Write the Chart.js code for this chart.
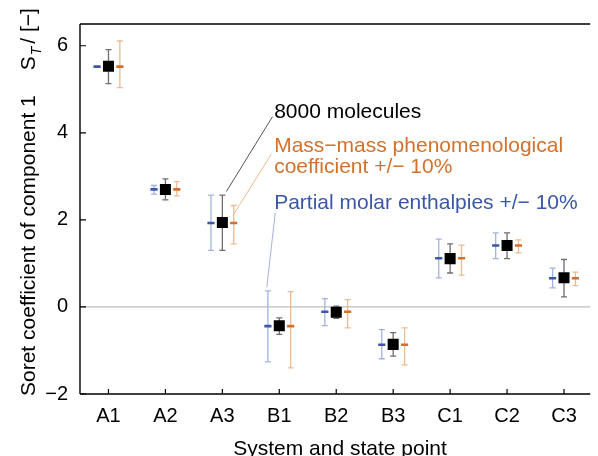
<!DOCTYPE html>
<html>
<head>
<meta charset="utf-8">
<script src="https://cdn.jsdelivr.net/npm/chart.js@4/dist/chart.umd.min.js"></script>
<style>
  html, body { margin: 0; padding: 0; background: #fff; }
  canvas { display: block; }
</style>
</head>
<body>
<canvas id="c" width="598" height="456"></canvas>
<script>
// ---- data ----
const categories = ['A1', 'A2', 'A3', 'B1', 'B2', 'B3', 'C1', 'C2', 'C3'];
const yTicks = [-2, 0, 2, 4, 6];

// 8000 molecules (black squares)
const mol8000      = [5.53, 2.70, 1.94, -0.43, -0.12, -0.86, 1.11, 1.41, 0.67];
const mol8000Low   = [5.13, 2.46, 1.30, -0.63, -0.26, -1.13, 0.78, 1.11, 0.23];
const mol8000High  = [5.91, 2.94, 2.57, -0.25,  0.02, -0.59, 1.45, 1.70, 1.09];

// Partial molar enthalpies +/- 10% (blue)
const enthalpy     = [5.52, 2.70, 1.93, -0.44, -0.11, -0.87, 1.12, 1.41, 0.66];
const enthalpyLow  = [5.52, 2.59, 1.30, -1.26, -0.43, -1.19, 0.67, 1.11, 0.44];
const enthalpyHigh = [5.52, 2.79, 2.57,  0.37,  0.19, -0.52, 1.56, 1.70, 0.89];

// Mass-mass phenomenological coefficient +/- 10% (orange)
const massCoef     = [5.52, 2.70, 1.93, -0.44, -0.11, -0.87, 1.12, 1.41, 0.66];
const massCoefLow  = [5.04, 2.55, 1.45, -1.40, -0.48, -1.33, 0.73, 1.24, 0.49];
const massCoefHigh = [6.11, 2.88, 2.33,  0.35,  0.17, -0.48, 1.42, 1.54, 0.80];

// ---- styling / layout ----
const FONT = '"Liberation Sans", Arial, Helvetica, sans-serif';
const BLUE = '#3a57a8', BLUE_LIGHT = '#a3b3e0';
const ORANGE = '#d2712b', ORANGE_LIGHT = '#ebbb93';
const GRAY_ERR = '#6e6e6e';
const OFFSET = 0.2;

const seriesDefs = [
  { label: 'Partial molar enthalpies +/− 10%', vals: enthalpy, lo: enthalpyLow, hi: enthalpyHigh, off: -OFFSET, color: BLUE, err: BLUE_LIGHT, style: 'line' },
  { label: 'Mass−mass phenomenological coefficient +/− 10%', vals: massCoef, lo: massCoefLow, hi: massCoefHigh, off: OFFSET, color: ORANGE, err: ORANGE_LIGHT, style: 'line' },
  { label: '8000 molecules', vals: mol8000, lo: mol8000Low, hi: mol8000High, off: 0, color: '#000', err: GRAY_ERR, style: 'rect' }
];

const datasets = seriesDefs.map(s => ({
  label: s.label,
  data: s.vals.map((v, i) => ({ x: i + s.off, y: v })),
  pointStyle: s.style,
  pointRadius: s.style === 'rect' ? 7.8 : 3.6,
  pointBorderWidth: s.style === 'rect' ? 0 : 2.6,
  pointBackgroundColor: s.color,
  pointBorderColor: s.color,
  showLine: false,
  errLo: s.lo, errHi: s.hi, errColor: s.err, off: s.off
}));

// annotations in data coordinates
const annotations = [
  { lines: ['8000 molecules'], color: '#000', x: 2.91, y: 4.33 },
  { lines: ['Mass−mass phenomenological', 'coefficient +/− 10%'], color: ORANGE, x: 2.91, y: 3.55, lh: 0.465 },
  { lines: ['Partial molar enthalpies +/− 10%'], color: BLUE, x: 2.91, y: 2.24 }
];
const leaderLines = [
  { color: '#555', x1: 2.88, y1: 4.37, x2: 2.07, y2: 2.65 },
  { color: ORANGE_LIGHT, x1: 2.86, y1: 3.51, x2: 2.20, y2: 2.13 },
  { color: BLUE_LIGHT, x1: 2.93, y1: 2.17, x2: 2.78, y2: 0.45 }
];

const customDraw = {
  id: 'customDraw',
  beforeDatasetsDraw(chart) {
    const { ctx, chartArea: a, scales: { x, y } } = chart;
    ctx.save();
    // zero line
    ctx.strokeStyle = '#bdbdbd';
    ctx.lineWidth = 1.2;
    const y0 = y.getPixelForValue(0);
    ctx.beginPath(); ctx.moveTo(a.left, y0); ctx.lineTo(a.right, y0); ctx.stroke();
    // error bars
    chart.data.datasets.forEach(ds => {
      ctx.strokeStyle = ds.errColor;
      ctx.lineWidth = 1.3;
      ds.errLo.forEach((lo, i) => {
        const hi = ds.errHi[i];
        if (Math.abs(hi - lo) < 1e-9) return;
        const px = x.getPixelForValue(i + ds.off);
        const pl = y.getPixelForValue(lo), ph = y.getPixelForValue(hi);
        ctx.beginPath();
        ctx.moveTo(px, pl); ctx.lineTo(px, ph);
        ctx.moveTo(px - 3, pl); ctx.lineTo(px + 3, pl);
        ctx.moveTo(px - 3, ph); ctx.lineTo(px + 3, ph);
        ctx.stroke();
      });
    });
    // leader lines
    leaderLines.forEach(l => {
      ctx.strokeStyle = l.color; ctx.lineWidth = 1;
      ctx.beginPath();
      ctx.moveTo(x.getPixelForValue(l.x1), y.getPixelForValue(l.y1));
      ctx.lineTo(x.getPixelForValue(l.x2), y.getPixelForValue(l.y2));
      ctx.stroke();
    });
    ctx.restore();
  },
  afterDraw(chart) {
    const { ctx, chartArea: a, scales: { x, y } } = chart;
    ctx.save();
    // axes & frame
    ctx.strokeStyle = '#000';
    ctx.lineWidth = 1.4;
    ctx.beginPath();
    ctx.moveTo(a.left, a.top); ctx.lineTo(a.right, a.top);
    ctx.moveTo(a.left, a.top); ctx.lineTo(a.left, a.bottom);
    ctx.moveTo(a.left, a.bottom); ctx.lineTo(a.right, a.bottom);
    ctx.stroke();
    // inside ticks
    ctx.lineWidth = 1.2;
    ctx.beginPath();
    yTicks.forEach(v => {
      const py = y.getPixelForValue(v);
      ctx.moveTo(a.left, py); ctx.lineTo(a.left + 6, py);
    });
    categories.forEach((c, i) => {
      const px = x.getPixelForValue(i);
      ctx.moveTo(px, a.bottom); ctx.lineTo(px, a.bottom - 5);
    });
    ctx.stroke();
    // annotations
    ctx.textAlign = 'left';
    ctx.textBaseline = 'alphabetic';
    ctx.font = '21px ' + FONT;
    annotations.forEach(an => {
      ctx.fillStyle = an.color;
      an.lines.forEach((t, k) => {
        ctx.fillText(t, x.getPixelForValue(an.x), y.getPixelForValue(an.y - k * (an.lh || 0)));
      });
    });
    // x title
    ctx.fillStyle = '#000';
    ctx.textAlign = 'center';
    ctx.fillText('System and state point', 340, 455);
    // y title
    ctx.translate(35, 396);
    ctx.rotate(-Math.PI / 2);
    ctx.textAlign = 'left';
    const main = 'Soret coefficient of component 1';
    ctx.font = '21px ' + FONT;
    ctx.fillText(main, 0, 0);
    let w = ctx.measureText(main).width + 25;
    ctx.fillText('S', w, 0);
    w += ctx.measureText('S').width + 1;
    ctx.font = 'italic 14px ' + FONT;
    ctx.fillText('T', w, 6);
    w += ctx.measureText('T').width + 3;
    ctx.font = '21px ' + FONT;
    ctx.fillText('/ [−]', w, 0);
    ctx.restore();
  }
};

new Chart(document.getElementById('c'), {
  type: 'scatter',
  data: { datasets },
  options: {
    responsive: false,
    animation: false,
    devicePixelRatio: 1,
    layout: { padding: { top: 15, right: 0, bottom: 0, left: 0 } },
    plugins: { legend: { display: false }, tooltip: { enabled: false } },
    scales: {
      x: {
        type: 'linear',
        min: -0.5,
        max: 8.46,
        grid: { display: false, drawTicks: false },
        border: { display: false },
        afterBuildTicks: s => { s.ticks = categories.map((c, i) => ({ value: i })); },
        afterFit: s => { s.height = 62; },
        ticks: {
          autoSkip: false, maxRotation: 0, padding: 10,
          color: '#000', font: { family: FONT, size: 20 },
          callback: v => categories[v]
        }
      },
      y: {
        min: -2,
        max: 6.5,
        grid: { display: false, drawTicks: false },
        border: { display: false },
        afterBuildTicks: s => { s.ticks = yTicks.map(v => ({ value: v })); },
        afterFit: s => { s.width = 80; },
        ticks: {
          padding: 12, color: '#000', font: { family: FONT, size: 20 },
          callback: v => (v < 0 ? '−' + Math.abs(v) : String(v))
        }
      }
    }
  },
  plugins: [customDraw]
});
</script>
</body>
</html>
